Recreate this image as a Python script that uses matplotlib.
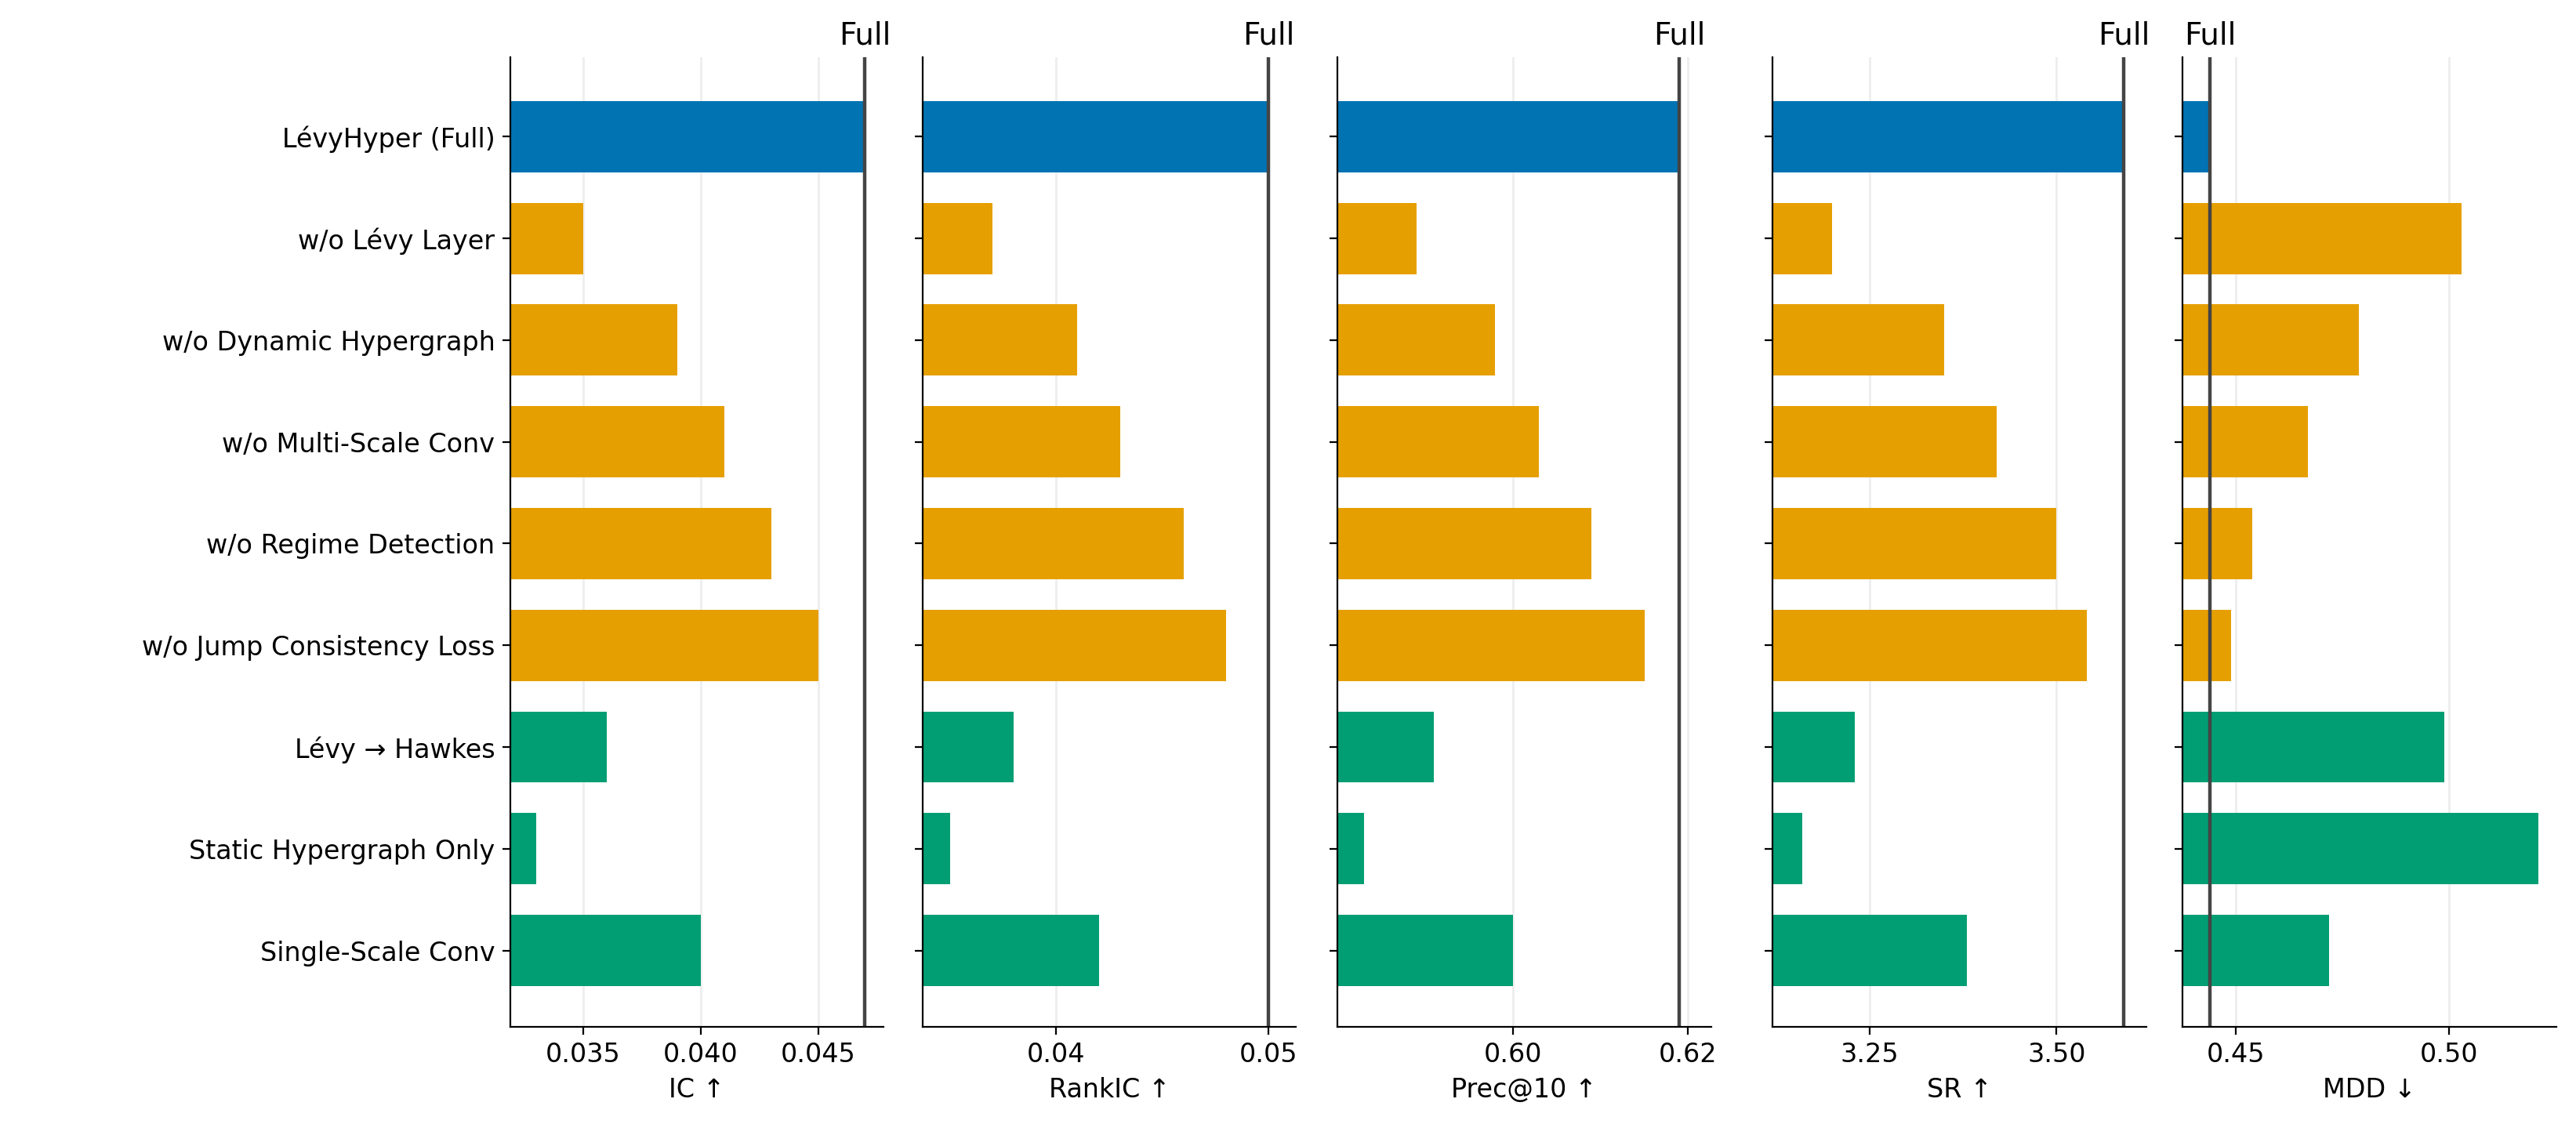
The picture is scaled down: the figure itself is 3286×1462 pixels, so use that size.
import matplotlib.pyplot as plt

# Variants of the model (top to bottom)
variants = ['LévyHyper (Full)', 'w/o Lévy Layer', 'w/o Dynamic Hypergraph',
            'w/o Multi-Scale Conv', 'w/o Regime Detection', 'w/o Jump Consistency Loss',
            'Lévy → Hawkes', 'Static Hypergraph Only', 'Single-Scale Conv']
groups = ['full', 'ablate', 'ablate', 'ablate', 'ablate', 'ablate', 'alt', 'alt', 'alt']

ic = [0.047, 0.035, 0.039, 0.041, 0.043, 0.045, 0.036, 0.033, 0.040]
rank_ic = [0.050, 0.037, 0.041, 0.043, 0.046, 0.048, 0.038, 0.035, 0.042]
prec10 = [0.619, 0.589, 0.598, 0.603, 0.609, 0.615, 0.591, 0.583, 0.600]
sr = [3.59, 3.20, 3.35, 3.42, 3.50, 3.54, 3.23, 3.16, 3.38]
mdd = [0.444, 0.503, 0.479, 0.467, 0.454, 0.449, 0.499, 0.521, 0.472]

metrics = [('IC ↑', ic, [0.035, 0.040, 0.045], '{:.3f}', (0.0319, 0.0478)),
           ('RankIC ↑', rank_ic, [0.04, 0.05], '{:.2f}', (0.0337, 0.0513)),
           ('Prec@10 ↑', prec10, [0.60, 0.62], '{:.2f}', (0.580, 0.6226)),
           ('SR ↑', sr, [3.25, 3.50], '{:.2f}', (3.121, 3.62)),
           ('MDD ↓', mdd, [0.45, 0.50], '{:.2f}', (0.4376, 0.5252))]

colors = {'full': '#0173B2', 'ablate': '#E69F00', 'alt': '#029E73'}
bar_colors = [colors[g] for g in groups]

fig = plt.figure(figsize=(16.435, 7.31), dpi=200)
lefts = [0.198, 0.358, 0.519, 0.688, 0.847]
width = 0.145
ypos = list(range(len(variants)))

for i, (name, vals, ticks, fmt, lim) in enumerate(metrics):
    ax = fig.add_axes([lefts[i], 0.104, width, 0.846])
    ax.set_axisbelow(True)
    ax.grid(axis='x', color='#eeeeee', linewidth=1)
    ax.barh(ypos, vals, height=0.7, color=bar_colors)
    ax.axvline(vals[0], color='#444444', linewidth=1.6)
    ax.text(vals[0], -0.85, 'Full', ha='center', va='bottom', fontsize=14)
    ax.set_ylim(8.75, -0.78)
    ax.set_xlim(*lim)
    ax.set_xticks(ticks)
    ax.set_xticklabels([fmt.format(t) for t in ticks])
    ax.set_yticks(ypos)
    if i == 0:
        ax.set_yticklabels(variants)
    else:
        ax.set_yticklabels([])
    ax.set_xlabel(name, fontsize=12)
    ax.tick_params(labelsize=12)
    ax.spines['top'].set_visible(False)
    ax.spines['right'].set_visible(False)

fig.savefig('out.png')
